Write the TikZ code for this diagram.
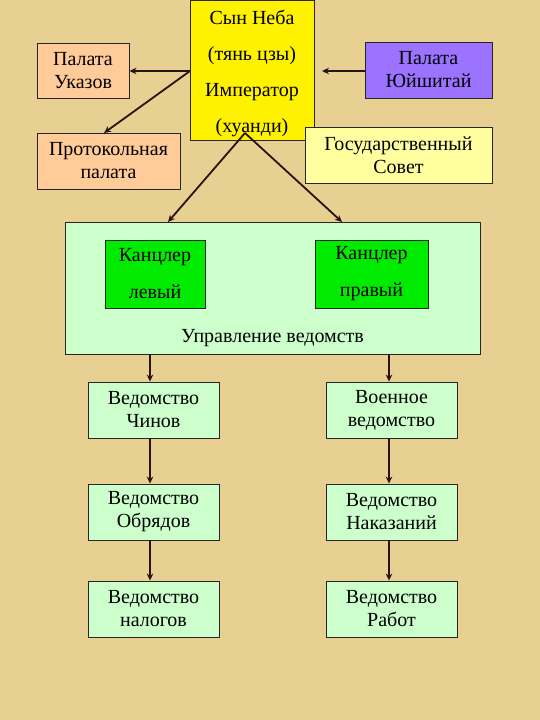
\documentclass[tikz,border=0pt]{standalone}
\usepackage{fontspec}
\setmainfont{Liberation Serif}
\usetikzlibrary{arrows.meta}
\definecolor{bg}{RGB}{231,208,146}
\definecolor{salmon}{RGB}{255,204,153}
\definecolor{violetbox}{RGB}{155,115,255}
\definecolor{lyellow}{RGB}{255,255,160}
\definecolor{lgreen}{RGB}{204,255,204}
\definecolor{kgreen}{RGB}{0,235,0}
\definecolor{arr}{RGB}{40,20,15}
\tikzset{
  box/.style={draw=black!85, line width=0.9pt, align=center, inner sep=0pt,
    font=\fontsize{20}{23}\selectfont},
  wide/.style={font=\fontsize{20}{37}\selectfont},
  conn/.style={draw=arr, line width=1.8pt, -{Stealth[length=7pt,width=6.5pt]}}
}
\begin{document}
\begin{tikzpicture}[x=1pt,y=-1pt]
\fill[bg] (0,0) rectangle (540,720);
\useasboundingbox (0,0) rectangle (540,720);
% top
\node[box, fill=yellow, minimum width=124, minimum height=140] (emp) at (252,70) {};
\node[font=\fontsize{20}{36}\selectfont, align=center] (emptext) at (252,73) {Сын Неба\\(тянь цзы)\\Император\\(хуанди)};
\node[box, fill=salmon, minimum width=92, minimum height=55] (ukaz) at (83,70.5) {Палата\\Указов};
\node[box, fill=salmon, minimum width=143, minimum height=56] (prot) at (108.5,161) {Протокольная\\палата};
\node[box, fill=violetbox, minimum width=127, minimum height=56] (yush) at (428.5,70) {Палата\\Юйшитай};
\node[box, fill=lyellow, minimum width=187, minimum height=56] (sovet) at (398.5,155) {Государственный\\Совет};
% management
\node[box, fill=lgreen, minimum width=415, minimum height=132] (upr) at (272.5,288) {};
\node[font=\fontsize{20}{23}\selectfont] (uprlab) at (272.5,338) {Управление ведомств};
\node[box, fill=kgreen, wide, minimum width=100, minimum height=68] (kl) at (155,274) {Канцлер\\левый};
\node[box, fill=kgreen, wide, minimum width=113, minimum height=68] (kr) at (371.5,274) {Канцлер\\правый};
% departments
\node[box, fill=lgreen, minimum width=131, minimum height=56] (d1) at (153.5,410) {Ведомство\\Чинов};
\node[box, fill=lgreen, minimum width=131, minimum height=56] (d2) at (153.5,512) {Ведомство\\Обрядов};
\node[box, fill=lgreen, minimum width=131, minimum height=56] (d3) at (153.5,609) {Ведомство\\налогов};
\node[box, fill=lgreen, minimum width=131, minimum height=56] (e1) at (391.5,410) {Военное\\ведомство};
\node[box, fill=lgreen, minimum width=131, minimum height=56] (e2) at (391.5,512) {Ведомство\\Наказаний};
\node[box, fill=lgreen, minimum width=131, minimum height=56] (e3) at (391.5,609) {Ведомство\\Работ};
% connectors
\coordinate (eL) at (190,71);
\coordinate (eB) at (245,133);
\coordinate (yEnd) at (322,71);
\draw[conn] (eL) -- (ukaz.east |- eL);
\draw[conn] (eL) -- (104,133);
\draw[conn] (yush.west |- yEnd) -- (yEnd);
\draw[conn] (eB) -- (168,222);
\draw[conn] (eB) -- (342,222);
\draw[conn] (upr.south -| 150,0) -- (d1.north -| 150,0);
\draw[conn] (d1.south -| 150,0) -- (d2.north -| 150,0);
\draw[conn] (d2.south -| 150,0) -- (d3.north -| 150,0);
\draw[conn] (upr.south -| 389,0) -- (e1.north -| 389,0);
\draw[conn] (e1.south -| 389,0) -- (e2.north -| 389,0);
\draw[conn] (e2.south -| 389,0) -- (e3.north -| 389,0);
\end{tikzpicture}
\end{document}
